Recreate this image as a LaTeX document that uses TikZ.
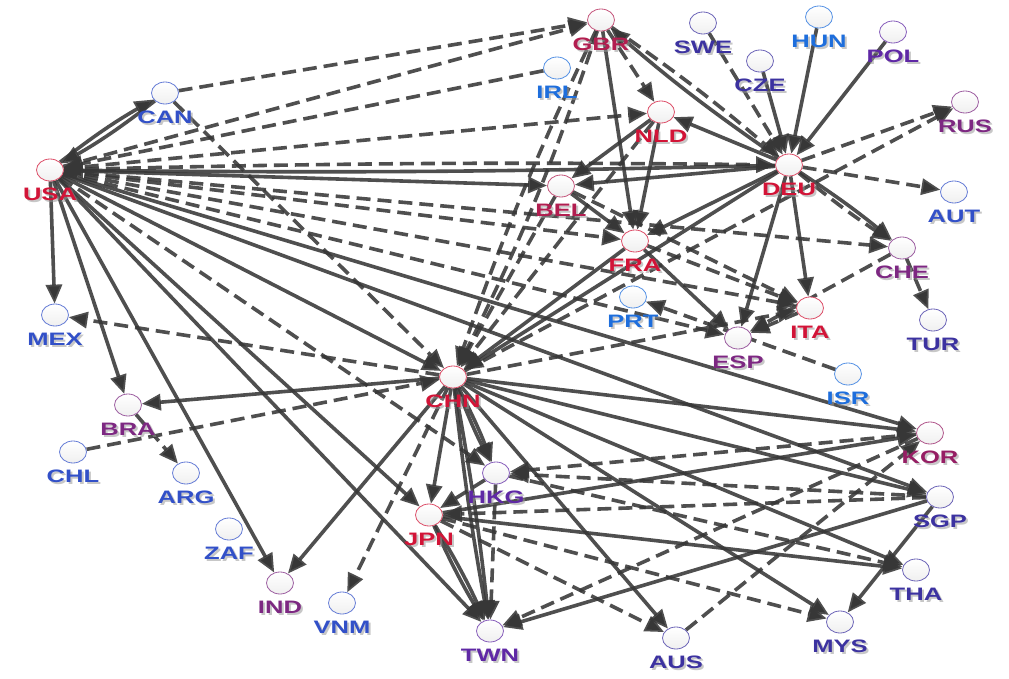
\documentclass[tikz,border=0pt]{standalone}
\usepackage{fontspec}
\setmainfont{Liberation Sans}
\usetikzlibrary{arrows.meta,shapes.geometric}
\pgfdeclarelayer{bg}
\pgfsetlayers{bg,main}
\definecolor{edgec}{RGB}{55,55,55}
\definecolor{cred}{RGB}{210,20,55}
\definecolor{crim}{RGB}{178,30,80}
\definecolor{cpur}{RGB}{125,40,130}
\definecolor{cvio}{RGB}{95,40,165}
\definecolor{ckor}{RGB}{150,30,100}
\definecolor{cind}{RGB}{60,50,160}
\definecolor{cblu}{RGB}{50,80,200}
\definecolor{clbl}{RGB}{30,110,220}
\tikzset{
  cnd/.style={ellipse, minimum width=27pt, minimum height=22pt, inner sep=0pt,
    line width=0.8pt, top color=white, bottom color=black!6},
  lbl/.style={font=\fontsize{18}{18}\selectfont\bfseries, inner sep=0pt},
  ee/.style={line width=3.6pt, draw=edgec, draw opacity=0.88,
    -{Triangle[length=19pt,width=16pt,fill=edgec]}},
  sl/.style={ee},
  dl/.style={ee, dash pattern=on 14pt off 7pt},
}
\newcommand\cnode[4]{%
  \node[cnd, draw=#4!75] (#1) at (#2,#3) {};
  \node[lbl, text=black!40, opacity=0.55] at (#2+2,#3+26) {\scalebox{1.42}[1]{#1}};
  \node[lbl, text=#4] (#1-l) at (#2,#3+24) {\scalebox{1.42}[1]{#1}};
}
\begin{document}
\begin{tikzpicture}[x=1pt,y=-1pt]
\useasboundingbox (0,0) rectangle (1009,679);
\begin{pgfonlayer}{bg}
\fill[white] (0,0) rectangle (1009,679);
\end{pgfonlayer}
\cnode{GBR}{601}{20}{crim}
\cnode{SWE}{703}{23}{cind}
\cnode{HUN}{819}{17}{clbl}
\cnode{POL}{893}{32}{cvio}
\cnode{CZE}{760}{61}{cind}
\cnode{IRL}{557}{68}{clbl}
\cnode{CAN}{165}{93}{cblu}
\cnode{NLD}{661}{112}{cred}
\cnode{RUS}{965}{102}{cpur}
\cnode{USA}{50}{170}{cred}
\cnode{DEU}{789}{165}{cred}
\cnode{BEL}{561}{186}{crim}
\cnode{AUT}{954}{192}{cblu}
\cnode{FRA}{635}{241}{cred}
\cnode{CHE}{902}{248}{cpur}
\cnode{MEX}{55}{315}{cblu}
\cnode{PRT}{633}{297}{clbl}
\cnode{ITA}{810}{308}{cred}
\cnode{TUR}{933}{320}{cind}
\cnode{ESP}{738}{338}{cpur}
\cnode{CHN}{453}{377}{cred}
\cnode{ISR}{848}{374}{clbl}
\cnode{BRA}{128}{405}{cpur}
\cnode{KOR}{930}{433}{ckor}
\cnode{CHL}{73}{452}{cblu}
\cnode{HKG}{496}{473}{cvio}
\cnode{ARG}{186}{473}{cblu}
\cnode{SGP}{940}{497}{cind}
\cnode{JPN}{429}{515}{cred}
\cnode{ZAF}{229}{529}{cblu}
\cnode{THA}{916}{570}{cind}
\cnode{IND}{280}{583}{cpur}
\cnode{VNM}{342}{603}{cblu}
\cnode{TWN}{490}{631}{cvio}
\cnode{AUS}{676}{638}{cind}
\cnode{MYS}{840}{622}{cind}
\begin{pgfonlayer}{bg}
% USA
\draw[sl] (USA) -- (MEX);
\draw[sl] (USA) -- (BRA);
\draw[sl] (USA) -- (IND);
\draw[sl] (USA) -- (TWN);
\draw[sl] (USA) -- (JPN);
\draw[dl] (USA) -- (HKG);
\draw[sl] (USA) -- (CHN);
\draw[sl] (USA) -- (KOR);
\draw[sl] (USA) -- (SGP);
\draw[sl] (USA) -- (BEL);
\draw[sl] (USA) to[bend left=4] (CAN);
\draw[sl] (CAN) to[bend left=4] (USA);
\draw[dl] (CAN) -- (GBR);
\draw[dl] (CAN) -- (CHN);
\draw[dl] (USA) -- (GBR);
\draw[dl] (IRL) -- (USA);
\draw[dl] (USA) -- (NLD);
\draw[dl] (USA) to[bend left=1] (DEU);
\draw[sl] (DEU) to[bend left=1] (USA);
\draw[dl] (USA) -- (CHE);
\draw[dl] (USA) -- (ITA);
\draw[dl] (USA) -- (FRA);
\draw[dl] (USA) -- (ESP);
% GBR
\draw[dl] (GBR) -- (NLD);
\draw[sl] (GBR) -- (FRA);
\draw[dl] (GBR) to[bend left=3] (DEU);
\draw[sl] (DEU) to[bend left=3] (GBR);
\draw[dl] (GBR) to[bend left=4] (CHN);
\draw[dl] (GBR) to[bend right=3] (CHN);
\draw[dl] (NLD) -- (CHN);
\draw[dl] (BEL) -- (CHN);
% DEU
\draw[dl] (SWE) -- (DEU);
\draw[sl] (CZE) -- (DEU);
\draw[sl] (HUN) -- (DEU);
\draw[sl] (POL) -- (DEU);
\draw[sl] (DEU) -- (NLD);
\draw[sl] (NLD) -- (BEL);
\draw[sl] (NLD) -- (FRA);
\draw[sl] (DEU) -- (BEL);
\draw[sl] (DEU) -- (FRA);
\draw[sl] (BEL) -- (FRA);
\draw[dl] (BEL) -- (ITA);
\draw[dl] (DEU) -- (AUT);
\draw[dl] (DEU) -- (RUS);
\draw[dl] (CHN) -- (RUS);
\draw[sl] (DEU) to[bend left=3] (CHE);
\draw[dl] (DEU) to[bend right=3] (CHE);
\draw[sl] (DEU) -- (ITA);
\draw[sl] (DEU) -- (ESP);
\draw[sl] (DEU) -- (CHN);
\draw[sl] (FRA) -- (CHN);
\draw[sl] (FRA) -- (ESP);
\draw[dl] (FRA) -- (ITA);
\draw[dl] (CHE) -- (TUR);
\draw[dl] (CHE) -- (ESP);
\draw[dl] (ITA) -- (ESP);
\draw[dl] (ISR) -- (PRT);
% CHN
\draw[dl] (CHN) -- (ITA);
\draw[sl] (CHN) -- (BRA);
\draw[dl] (CHL) -- (CHN);
\draw[dl] (CHN) -- (MEX);
\draw[sl] (CHN) -- (IND);
\draw[dl] (CHN) -- (VNM);
\draw[sl] (CHN) -- (JPN);
\draw[sl] (CHN) to[bend left=3] (HKG);
\draw[sl] (CHN) to[bend right=3] (HKG);
\draw[sl] (CHN) to[bend left=2] (TWN);
\draw[sl] (CHN) to[bend right=2] (TWN);
\draw[sl] (CHN) -- (AUS);
\draw[sl] (CHN) -- (MYS);
\draw[sl] (CHN) -- (THA);
\draw[sl] (CHN) -- (SGP);
\draw[sl] (CHN) -- (KOR);
\draw[dl] (BRA) -- (ARG);
% East Asia
\draw[sl] (JPN) to[bend left=3] (TWN);
\draw[sl] (JPN) to[bend right=3] (TWN);
\draw[sl] (JPN) -- (THA);
\draw[sl] (JPN) -- (KOR);
\draw[dl] (JPN) -- (MYS);
\draw[dl] (JPN) -- (AUS);
\draw[dl] (HKG) -- (TWN);
\draw[dl] (HKG) -- (JPN);
\draw[dl] (HKG) -- (THA);
\draw[dl] (KOR) -- (HKG);
\draw[dl] (SGP) -- (HKG);
\draw[dl] (SGP) -- (JPN);
\draw[dl] (AUS) -- (KOR);
\draw[dl] (KOR) -- (TWN);
\draw[sl] (SGP) -- (TWN);
\draw[sl] (SGP) -- (MYS);
\end{pgfonlayer}
\end{tikzpicture}
\end{document}
